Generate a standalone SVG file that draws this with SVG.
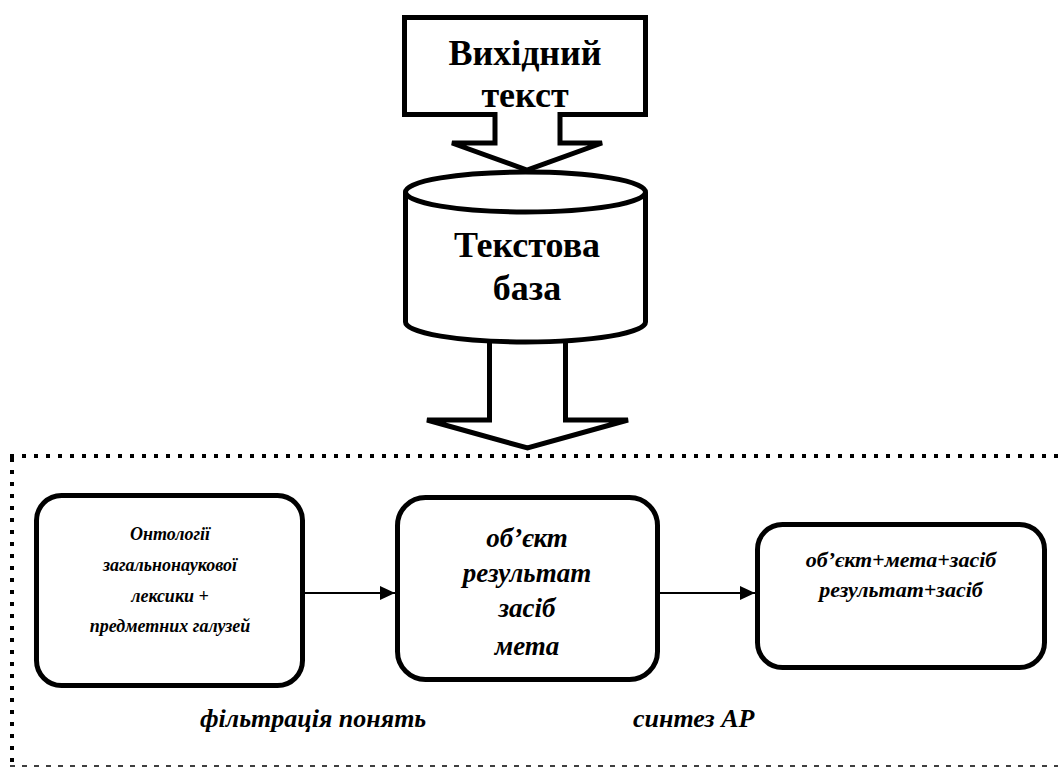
<svg xmlns="http://www.w3.org/2000/svg" width="1058" height="767" viewBox="0 0 1058 767">
<defs>
<marker id="ah" markerWidth="15" markerHeight="14" refX="15" refY="7" orient="auto" markerUnits="userSpaceOnUse">
<path d="M0,0 L15,7 L0,14 Z" fill="#000"/>
</marker>
</defs>
<rect width="1058" height="767" fill="#fff"/>
<g id="frame" stroke="#000">
<line x1="10" y1="456" x2="1058" y2="456" stroke-width="4" stroke-dasharray="4 8"/>
<line x1="12" y1="458" x2="12" y2="764" stroke-width="4" stroke-dasharray="4 8"/>
<line x1="10" y1="766" x2="1058" y2="766" stroke-width="1.5" stroke-dasharray="5 7"/>
</g>
<g id="nodes" font-family="Liberation Serif, serif" font-weight="bold" text-anchor="middle">
<g id="source">
<path fill="#fff" stroke="#000" stroke-width="5" d="M404.5,17.5 H645.5 V114.5 H560 V143 H602 L527,170 L452,143 H495 V114.5 H404.5 Z"/>
<text x="525" y="65" font-size="36">Вихідний</text>
<text x="525" y="107" font-size="36">текст</text>
</g>
<g id="down-arrow">
<path fill="#fff" stroke="#000" stroke-width="5" d="M489.5,330 V420 H427 L527.5,448 L628,420 H565.5 V330"/>
</g>
<g id="textbase">
<path fill="#fff" stroke="#000" stroke-width="5" d="M405.5,192 V322 A120,20 0 0 0 645.5,322 V192"/>
<ellipse fill="#fff" stroke="#000" stroke-width="5" cx="525.5" cy="192" rx="120" ry="20"/>
<text x="527" y="257" font-size="36">Текстова</text>
<text x="527" y="300" font-size="36">база</text>
</g>
<g id="ontology" font-style="italic">
<rect fill="#fff" stroke="#000" stroke-width="5" x="36.5" y="495.5" width="266" height="190" rx="25"/>
<text x="170" y="540" font-size="18">Онтології</text>
<text x="170" y="571" font-size="18">загальнонаукової</text>
<text x="170" y="602" font-size="18">лексики +</text>
<text x="170" y="632" font-size="18">предметних галузей</text>
</g>
<g id="concepts" font-style="italic">
<rect fill="#fff" stroke="#000" stroke-width="5" x="397.5" y="497.5" width="260" height="182" rx="28"/>
<text x="527" y="547" font-size="27">об’єкт</text>
<text x="527" y="582" font-size="27">результат</text>
<text x="527" y="617" font-size="27">засіб</text>
<text x="527" y="655" font-size="27">мета</text>
</g>
<g id="synthesis" font-style="italic">
<rect fill="#fff" stroke="#000" stroke-width="5" x="757.5" y="524.5" width="287" height="143" rx="25"/>
<text x="901" y="567" font-size="22">об’єкт+мета+засіб</text>
<text x="901" y="597" font-size="22">результат+засіб</text>
</g>
<g id="labels" font-style="italic" text-anchor="start">
<text x="200" y="727" font-size="26">фільтрація понять</text>
<text x="633" y="727" font-size="26">синтез АР</text>
</g>
</g>
<g id="connectors" stroke="#000" stroke-width="2" fill="none">
<line x1="305" y1="593" x2="395" y2="593" marker-end="url(#ah)"/>
<line x1="660" y1="593" x2="755" y2="593" marker-end="url(#ah)"/>
</g>
</svg>
